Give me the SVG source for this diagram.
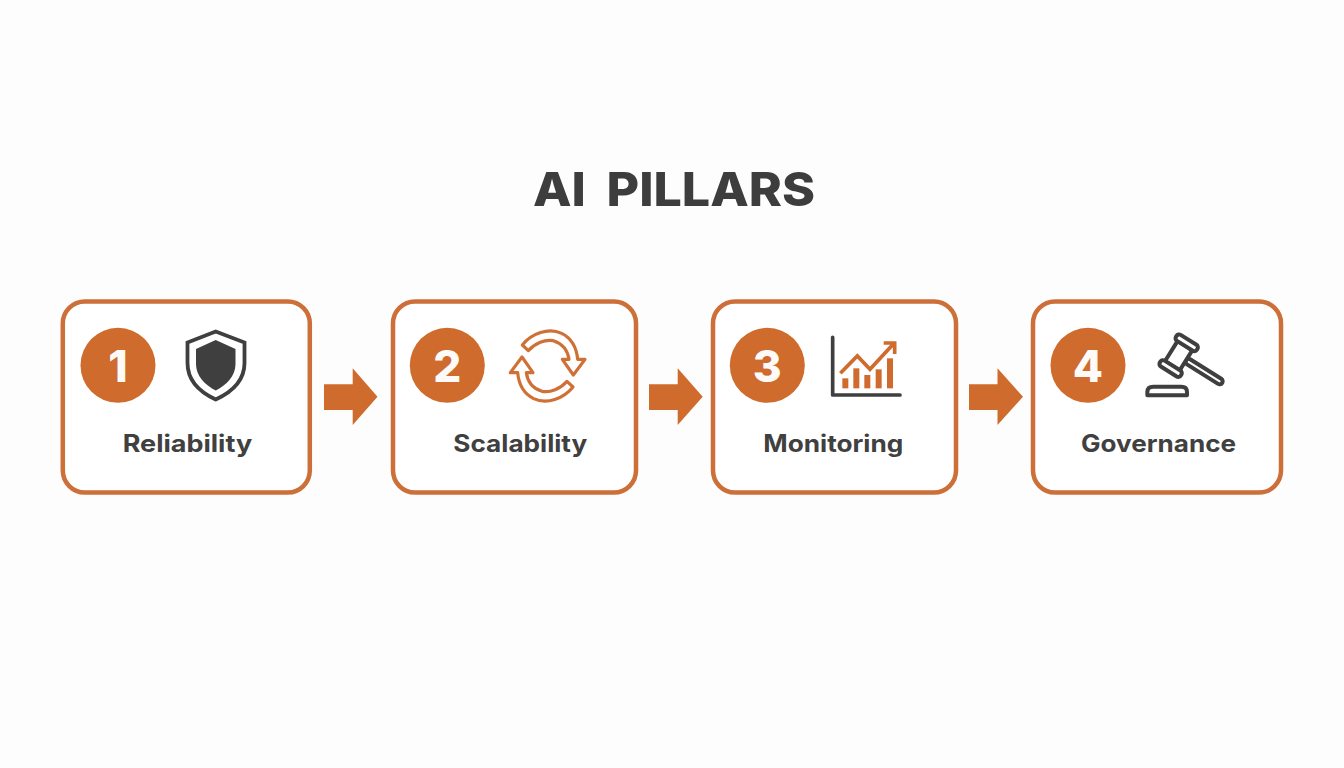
<svg xmlns="http://www.w3.org/2000/svg" xmlns:xlink="http://www.w3.org/1999/xlink" width="1344" height="768" viewBox="0 0 1344 768">
<style>
.box{fill:#fff;stroke:#cc6f38;stroke-width:4.5}
.badge{fill:#cf6b2c}
.num{fill:#fdfaf7;font-family:Inter,"Liberation Sans",sans-serif;font-weight:800;font-size:44px;text-anchor:middle}
.label{fill:#404040;font-family:Inter,"Liberation Sans",sans-serif;font-weight:700;font-size:24px}
.title{fill:#3d3d3d;font-family:Inter,"Liberation Sans",sans-serif;font-weight:800;font-size:47px;word-spacing:9px}
.arrow{fill:#cf6b2c}
.or{fill:#cf6b2c}
.ol{fill:#fff;stroke:#cf7136;stroke-width:9.5;stroke-linejoin:round}
.dk{fill:#fff;stroke:#3f3f3f;stroke-width:12;stroke-linejoin:round}
</style>
<defs>
<path id="cyc" d="M412 165C440 130 490 112 530 130C560 145 575 175 578 208L600 208L565 255L532 208L552 208C548 180 530 160 505 152C480 147 450 160 430 182Z"/>
</defs>
<rect width="1344" height="768" fill="#fdfdfd"/>
<text id="title" class="title" x="533" y="205.5" textLength="282" lengthAdjust="spacingAndGlyphs">AI PILLARS</text>
<g id="connectors">
<polygon class="arrow" points="324,384.3 352.7,384.3 352.7,368.3 377.5,396.7 352.7,425 352.7,410 324,410"/>
<polygon class="arrow" points="649,384.3 677.7,384.3 677.7,368.3 702.7,396.7 677.7,425 677.7,410 649,410"/>
<polygon class="arrow" points="969,384.3 997.5,384.3 997.5,368.3 1023,396.7 997.5,425 997.5,410 969,410"/>
</g>
<g id="node-1">
<rect class="box" x="62.8" y="301.5" width="247" height="191" rx="22"/>
<circle class="badge" cx="118" cy="365.3" r="37.5"/>
<text class="num" x="118" y="381.5">1</text>
<path d="M215.7 331.5L244.5 342.5V363C244.5 380 232 392 215.7 399.5C199.5 392 187.5 380 187.5 363V342.5Z" fill="#fff" stroke="#3f3f3f" stroke-width="3.8" stroke-linejoin="miter"/>
<path d="M215.7 340L235.5 349V364C235.5 376 227 384.5 215.7 390.5C204.5 384.5 196 376 196 364V349Z" fill="#3f3f3f"/>
<text class="label" x="122.7" y="452.3" textLength="129.5" lengthAdjust="spacingAndGlyphs">Reliability</text>
</g>
<g id="node-2">
<rect class="box" x="393" y="301.5" width="243" height="191" rx="22"/>
<circle class="badge" cx="447.3" cy="365.3" r="37.5"/>
<text class="num" x="447.3" y="381.5">2</text>
<g transform="translate(385 290) scale(.33333)">
<use xlink:href="#cyc" href="#cyc" class="ol"/>
<use xlink:href="#cyc" href="#cyc" class="ol" transform="rotate(180 488 228)"/>
</g>
<text class="label" x="453.3" y="452.3" textLength="134" lengthAdjust="spacingAndGlyphs">Scalability</text>
</g>
<g id="node-3">
<rect class="box" x="713" y="301.5" width="243" height="191" rx="22"/>
<circle class="badge" cx="767.3" cy="365.3" r="37.5"/>
<text class="num" x="767.3" y="381.5">3</text>
<g transform="translate(705 290) scale(.33333)">
<path d="M383 142V315H585" fill="none" stroke="#3f3f3f" stroke-width="11" stroke-linecap="round" stroke-linejoin="round"/>
<rect class="or" x="412" y="265" width="18" height="30"/>
<rect class="or" x="445" y="235" width="18" height="60"/>
<rect class="or" x="478" y="255" width="18" height="40"/>
<rect class="or" x="512" y="238" width="18" height="57"/>
<rect class="or" x="546" y="205" width="18" height="90"/>
<path d="M406 250L457 198L495 238L565 162M536 159H569V192" fill="none" stroke="#cf6b2c" stroke-width="11"/>
</g>
<text class="label" x="763.3" y="452.3" textLength="140" lengthAdjust="spacingAndGlyphs">Monitoring</text>
</g>
<g id="node-4">
<rect class="box" x="1033" y="301.5" width="248" height="191" rx="22"/>
<circle class="badge" cx="1088" cy="365.3" r="37.5"/>
<text class="num" x="1088" y="381.5">4</text>
<g transform="translate(1025 290) scale(.33333)">
<g transform="translate(461 197) rotate(32)">
<rect class="dk" x="26" y="-9" width="128" height="18" rx="9"/>
<rect class="dk" x="-26" y="-36" width="52" height="72"/>
<rect class="dk" x="-37" y="-56" width="74" height="21" rx="9"/>
<rect class="dk" x="-37" y="35" width="74" height="21" rx="9"/>
</g>
<path class="dk" d="M367 316V306Q367 290 385 290H469Q486 290 486 306V316Z"/>
</g>
<text class="label" x="1081" y="452.3" textLength="155" lengthAdjust="spacingAndGlyphs">Governance</text>
</g>
</svg>
